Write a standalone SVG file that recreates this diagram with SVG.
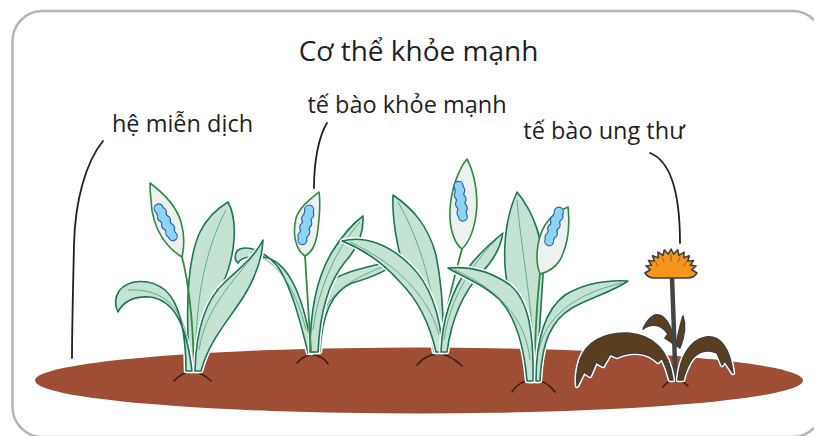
<svg xmlns="http://www.w3.org/2000/svg" xmlns:xlink="http://www.w3.org/1999/xlink" width="814" height="436" viewBox="0 0 814 436">
  <style>
    .lbl { font-family: "Open Sans", "Noto Sans", sans-serif; fill: #231f20; text-anchor: middle; }
    .title { font-size: 28px; }
    .sub { font-size: 23.5px; }
    .lead { fill: none; stroke: #231f20; stroke-width: 1.8; stroke-linecap: round; }
    .halo { fill: none; stroke: #ffffff; stroke-width: 4.5; stroke-linejoin: round; }
    .leaf { fill: #c4e3d2; stroke: #1e7458; stroke-width: 1.6; stroke-linejoin: round; }
    .rib { fill: none; stroke: #4f9a78; stroke-width: 0.8; }
    .spathe { fill: #eef1f2; stroke: #2f8a3f; stroke-width: 1.6; stroke-linejoin: round; }
    .stem { fill: none; stroke: #2f8a3f; stroke-width: 1.8; stroke-linecap: round; }
    .spx-o { fill: #2b66ad; stroke: #2b66ad; stroke-width: 2.4; }
    .spx-i { fill: #8ed4f3; stroke: none; }
    .mound { fill: none; stroke: #3a1f12; stroke-width: 1.6; stroke-linecap: round; }
    .dleaf { fill: #5b3d1f; stroke: #3f3f3f; stroke-width: 1.6; stroke-linejoin: round; }
  </style>
  <defs>
    <!-- lumpy flower spike, drawn along +y from its top -->
    <g id="spx">
      <circle cx="0" cy="4" r="4"/>
      <circle cx="0.7" cy="8.5" r="4.3"/>
      <circle cx="-0.7" cy="13" r="4.3"/>
      <circle cx="0.7" cy="17.5" r="4.3"/>
      <circle cx="-0.7" cy="22" r="4.3"/>
      <circle cx="0.7" cy="26.5" r="4.3"/>
      <circle cx="-0.7" cy="31" r="4.1"/>
      <circle cx="0" cy="35" r="3.8"/>
    </g>
    <!-- plant 1 -->
    <path id="p1a" d="M190,371 C186,320 186,262 200,232 C208,216 218,208 228,202 C238,220 236,256 222,285 C212,308 202,335 199,371 Z"/>
    <path id="p1b" d="M186,371 C186,335 180,303 165,290 C150,278 128,279 119,291 C114,299 115,306 118,312 C124,300 135,296 150,297 C172,300 186,320 192,371 Z"/>
    <path id="p1c" d="M195,371 C196,330 205,300 225,282 C240,268 255,256 263,240 C262,262 252,285 238,305 C222,328 208,345 201,371 Z"/>
    <!-- plant 2 -->
    <path id="p2l" d="M308,353 C300,320 292,290 280,270 C270,255 252,245 240,249 C234,252 234,260 238,263 C242,256 256,255 268,258 C290,265 305,300 312,353 Z"/>
    <path id="p2t" d="M310,352 C310,310 318,275 332,252 C342,236 352,224 363,216 C364,234 356,250 345,262 C330,280 320,310 318,352 Z"/>
    <path id="p2r" d="M314,352 C316,320 320,295 330,282 C345,270 375,266 403,258 C390,270 370,278 352,283 C335,290 322,310 320,352 Z"/>
    <!-- plant 3 -->
    <path id="p3t" d="M434,352 C430,320 415,300 405,272 C396,245 392,215 393,195 C412,208 428,225 436,255 C442,285 444,320 443,352 Z"/>
    <path id="p3l" d="M436,352 C430,325 418,300 400,282 C385,265 365,250 342,241 C365,235 390,245 410,265 C428,282 440,310 443,352 Z"/>
    <path id="p3r" d="M441,352 C442,320 452,290 468,268 C480,252 492,242 503,233 C500,250 492,262 482,272 C465,290 452,315 447,352 Z"/>
    <!-- plant 4 -->
    <path id="p4t" d="M529,381 C528,345 518,320 510,295 C502,268 502,225 517,192 C532,210 545,240 543,275 C541,310 538,340 538,381 Z"/>
    <path id="p4l" d="M527,381 C524,345 516,318 500,300 C485,285 465,278 448,268 C470,266 492,272 510,285 C528,300 534,330 533,381 Z"/>
    <path id="p4r" d="M536,381 C536,340 545,310 565,295 C585,283 608,280 628,281 C612,292 590,298 572,308 C552,320 542,340 540,381 Z"/>
    <!-- dandelion -->
    <path id="dl1" d="M673,380 C669,352 655,335 628,333 C603,332 586,343 580,360 C577,370 576,378 577,386 L584,372 L590,376 L596,362 L603,366 L610,354 L617,357 C632,350 648,352 658,362 L662,358 C666,366 668,372 670,380 Z"/>
    <path id="dl2" d="M678,380 C680,358 689,340 706,337 C720,335 730,348 733,373 L725,361 L722,365 L717,353 C706,348 696,352 690,362 C686,370 684,375 683,380 Z"/>
    <path id="dl3" d="M675,345 C672,325 664,313 655,315 C650,317 646,322 643,329 C652,322 662,325 668,334 L665,338 L671,342 Z"/>
    <path id="dl4" d="M676,345 C678,335 680,325 683,316 C686,325 685,335 680,348 Z"/>
  </defs>

  <!-- frame -->
  <rect x="12.5" y="11" width="810" height="426" rx="30" fill="#ffffff" stroke="#b5b5b5" stroke-width="2.5"/>

  <!-- soil -->
  <ellipse cx="419" cy="380.5" rx="384" ry="33" fill="#9d4e34"/>

  <!-- texts -->
  <text class="lbl title" x="418.5" y="61">Cơ thể khỏe mạnh</text>
  <text class="lbl sub" x="182.5" y="132">hệ miễn dịch</text>
  <text class="lbl sub" x="407" y="113">tế bào khỏe mạnh</text>
  <text class="lbl sub" x="604" y="139">tế bào ung thư</text>

  <!-- pointer lines -->
  <g id="connectors">
    <path class="lead" d="M103,141 C86,162 75,200 74,245 C73,290 72,330 72,358"/>
    <path class="lead" d="M327,123 C319,136 314,160 314,188"/>
    <path class="lead" d="M650,153 C668,160 680,185 680,243"/>
  </g>

  <!-- plant 2 (drawn first, sits behind plant 1) -->
  <g id="plant2">
    <path class="mound" d="M297,363 C302,357 307,355 312,355 C318,355 324,358 328,364"/>
    <use href="#p2l" class="halo"/><use href="#p2l" class="leaf"/>
    <path class="rib" d="M306,330 C296,290 280,262 250,252"/>
    <use href="#p2r" class="halo"/><use href="#p2r" class="leaf"/>
    <path class="rib" d="M318,330 C325,295 345,280 398,261"/>
    <use href="#p2t" class="halo"/><use href="#p2t" class="leaf"/>
    <path class="rib" d="M313,330 C318,290 335,250 360,222"/>
    <path class="stem" d="M305,256 C307,290 309,320 311,352"/>
    <path class="spathe" d="M305,256 C296,250 292,235 296,218 C300,206 312,198 319,192 C321,205 319,222 317,236 C315,246 311,253 305,256 Z"/>
    <g transform="translate(310,206) rotate(12.5)">
      <use href="#spx" class="spx-o"/><use href="#spx" class="spx-i"/>
    </g>
  </g>

  <!-- plant 1 -->
  <g id="plant1">
    <path class="mound" d="M174,381 C180,374 186,372 192,372 C200,372 206,376 211,381"/>
    <use href="#p1a" class="halo"/><use href="#p1a" class="leaf"/>
    <path class="rib" d="M196,350 C196,300 205,250 226,210"/>
    <path class="stem" d="M182,257 C188,280 193,320 194,370"/>
    <path class="spathe" d="M182,257 C170,250 152,232 151,200 C150,192 150,186 150,183 C162,192 176,205 181,222 C185,236 184,248 182,257 Z"/>
    <g transform="translate(157,205) rotate(-27)">
      <use href="#spx" class="spx-o"/><use href="#spx" class="spx-i"/>
    </g>
    <use href="#p1b" class="halo"/><use href="#p1b" class="leaf"/>
    <path class="rib" d="M188,345 C184,310 165,288 128,290"/>
    <use href="#p1c" class="halo"/><use href="#p1c" class="leaf"/>
    <path class="rib" d="M199,350 C205,310 230,285 258,250"/>
  </g>

  <!-- plant 3 -->
  <g id="plant3">
    <path class="mound" d="M417,365 C423,358 430,354 438,354 C447,354 455,359 462,366"/>
    <use href="#p3t" class="halo"/><use href="#p3t" class="leaf"/>
    <path class="rib" d="M438,340 C434,290 420,240 398,202"/>
    <path class="stem" d="M462,249 C455,275 445,310 440,352"/>
    <path class="spathe" d="M462,249 C455,244 449,230 450,210 C451,190 458,170 467,159 C474,172 479,195 476,215 C474,230 469,242 462,249 Z"/>
    <g transform="translate(458,182) rotate(-8)">
      <use href="#spx" class="spx-o"/><use href="#spx" class="spx-i"/>
    </g>
    <use href="#p3l" class="halo"/><use href="#p3l" class="leaf"/>
    <path class="rib" d="M439,335 C430,300 400,265 350,242"/>
    <use href="#p3r" class="halo"/><use href="#p3r" class="leaf"/>
    <path class="rib" d="M444,340 C450,300 470,265 498,238"/>
  </g>

  <!-- plant 4 -->
  <g id="plant4">
    <path class="mound" d="M512,392 C516,385 524,380 533,380 C543,380 550,385 555,392"/>
    <use href="#p4t" class="halo"/><use href="#p4t" class="leaf"/>
    <path class="rib" d="M534,360 C532,300 520,240 517,200"/>
    <path class="stem" d="M540,274 C537,300 535,340 534,380"/>
    <path class="spathe" d="M540,274 C535,262 536,240 545,225 C552,214 560,210 568,207 C570,225 568,245 560,260 C555,268 548,272 540,274 Z"/>
    <g transform="translate(560,208) rotate(18)">
      <use href="#spx" class="spx-o"/><use href="#spx" class="spx-i"/>
    </g>
    <use href="#p4l" class="halo"/><use href="#p4l" class="leaf"/>
    <path class="rib" d="M530,360 C526,320 500,290 455,270"/>
    <use href="#p4r" class="halo"/><use href="#p4r" class="leaf"/>
    <path class="rib" d="M539,350 C545,320 570,295 622,283"/>
  </g>

  <!-- dandelion -->
  <g id="dandelion">
    <path class="mound" d="M663,387 C667,382 671,380 675,380 C680,380 684,382 688,386"/>
    <use href="#dl3" class="halo"/><use href="#dl3" class="dleaf"/>
    <use href="#dl4" class="halo"/><use href="#dl4" class="dleaf"/>
    <path d="M672,276 C673,310 675,345 675,378" fill="none" stroke="#444444" stroke-width="4.5" stroke-linecap="round"/>
    <use href="#dl1" class="halo"/><use href="#dl1" class="dleaf"/>
    <use href="#dl2" class="halo"/><use href="#dl2" class="dleaf"/>
    <path d="M645,273 L650.2,269.7 L645.9,266 L651.6,265.1 L648.5,260.5 L654.3,261 L652.6,255.7 L658.2,257.7 L658,252.1 L663,255.4 L664.3,249.8 L668.3,254.2 L671,249 L673.7,254.2 L677.7,249.8 L679,255.4 L684,252.1 L683.8,257.7 L689.4,255.7 L687.7,261 L693.5,260.5 L690.4,265.1 L696.1,266 L691.8,269.7 L697,273 C695,276 692,278 688,278 L654,278 C650,278 647,276 645,273 Z" fill="#f7941d" stroke="#3f3f3f" stroke-width="1.6" stroke-linejoin="round"/>
    <g fill="none" stroke="#3f3f3f" stroke-width="0.8" stroke-linecap="round" opacity="0.7">
      <path d="M658,266 L655,261"/>
      <path d="M664,262 L662,257"/>
      <path d="M671,261 L671,255"/>
      <path d="M678,262 L680,257"/>
      <path d="M684,266 L687,261"/>
    </g>
  </g>
</svg>
